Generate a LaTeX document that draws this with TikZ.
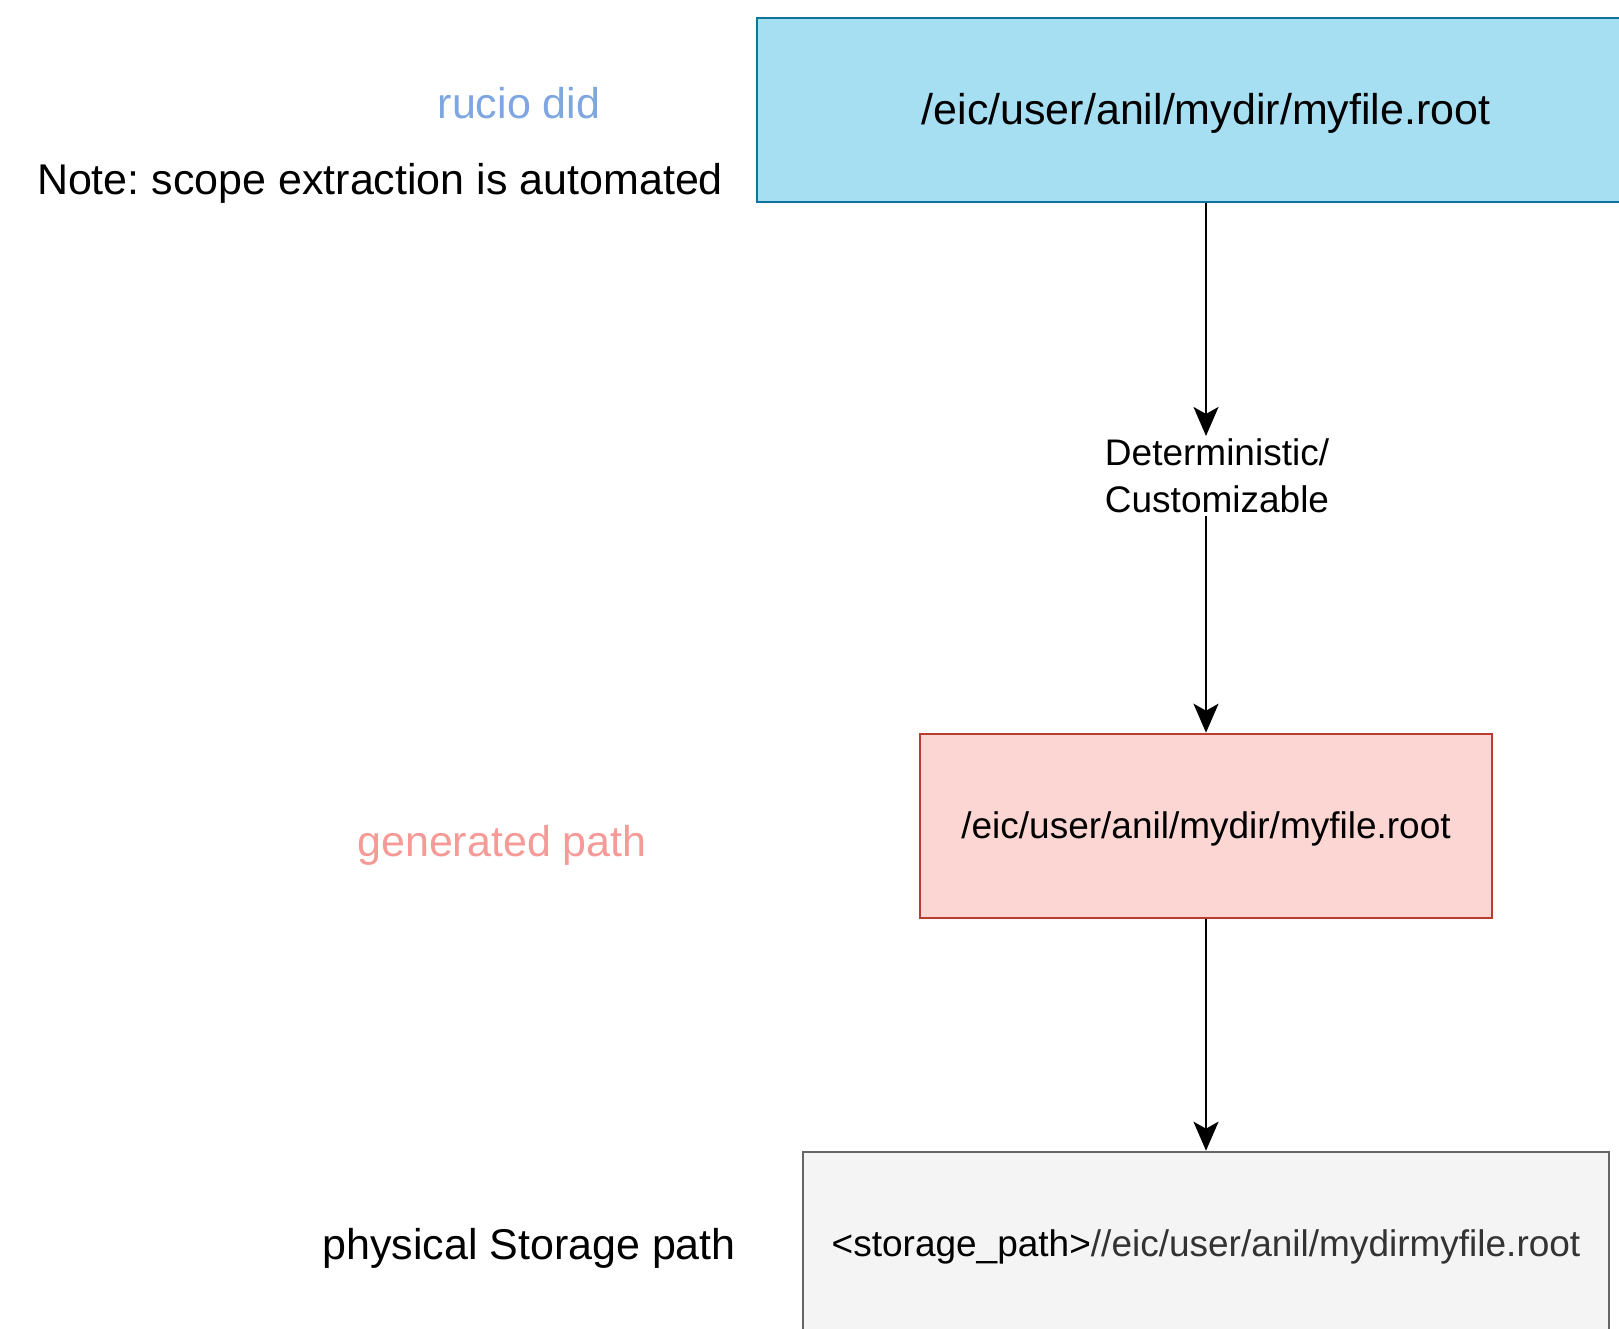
\documentclass[tikz,border=0pt]{standalone}
\usepackage{fontspec}
\setmainfont{Liberation Sans}
\usetikzlibrary{arrows.meta}

\definecolor{didfill}{HTML}{A6DEF2}
\definecolor{didline}{HTML}{10739E}
\definecolor{genfill}{HTML}{FBD6D3}
\definecolor{genline}{HTML}{BA3B30}
\definecolor{physfill}{HTML}{F4F4F4}
\definecolor{physline}{HTML}{666666}
\definecolor{phystext}{HTML}{333333}
\definecolor{didlabel}{HTML}{7EA6E0}
\definecolor{genlabel}{HTML}{F59A96}

% lower a text line inside its box without changing the box size
\newcommand{\droptext}[1]{\raisebox{-3pt}[\height][\depth]{#1}}

\tikzset{
  bigtext/.style={font=\frenchspacing\fontsize{43}{50}\selectfont},
  smalltext/.style={font=\frenchspacing\fontsize{37}{46.5}\selectfont},
  pathbox/.style={draw, line width=2.6pt, inner sep=0pt, minimum height=184pt, smalltext},
  flow/.style={line width=2.4pt, -{Stealth[length=29pt, width=25pt, inset=7pt]}},
}

\begin{document}
\begin{tikzpicture}[x=1pt, y=-1pt]
\useasboundingbox (0,0) rectangle (1619,1329);
\clip (0,0) rectangle (1619,1329);

% the three path boxes
\node[pathbox, bigtext, fill=didfill, draw=didline, minimum width=898pt]
  (did) at (1206,110) {\droptext{/eic/user/anil/mydir/myfile.root}};
\node[pathbox, fill=genfill, draw=genline, minimum width=572pt]
  (gen) at (1206,826) {\droptext{/eic/user/anil/mydir/myfile.root}};
\node[pathbox, fill=physfill, draw=physline, minimum width=806pt]
  (phys) at (1206,1244) {\droptext{<storage\_path>\textcolor{phystext}{//eic/user/anil/mydirmyfile.root}}};

% mapping step label between the DID and the generated path
\node[smalltext, align=center, inner xsep=0pt, inner ysep=3pt]
  (rule) at (1217,476) {Deterministic/\\Customizable};

% side labels
\node[bigtext, text=didlabel] (didlbl) at (519,103) {rucio did};
\node[bigtext] (note) at (380,183) {Note: scope extraction is automated};
\node[bigtext, text=genlabel] (genlbl) at (502,845) {generated path};
\node[bigtext] (physlbl) at (529,1248) {physical Storage path};

% connectors
\draw[flow] (did.south) -- (did.south |- rule.north);
\draw[flow] (did.south |- rule.south) -- (gen.north);
\draw[flow] (gen.south) -- (phys.north);
\end{tikzpicture}
\end{document}
